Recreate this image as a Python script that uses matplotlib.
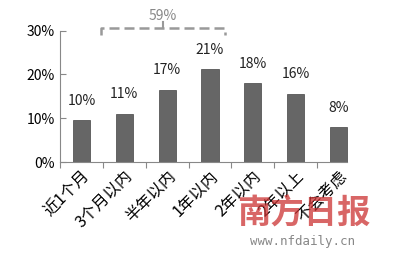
import matplotlib.pyplot as plt

plt.rcParams['font.family'] = ['Noto Sans CJK SC', 'DejaVu Sans']

categories = ["近1个月", "3个月以内", "半年以内", "1年以内", "2年以内", "2年以上", "不会考虑"]
values = [9.5, 11, 16.5, 21.2, 18, 15.6, 8]
labels = ["10%", "11%", "17%", "21%", "18%", "16%", "8%"]
yticks = [0, 10, 20, 30]
bracket_label = "59%"

fig = plt.figure(figsize=(4, 2.56), dpi=100)
ax = fig.add_axes([0.15, 0.367, 0.75, 0.513])

x = range(len(categories))
ax.bar(x, values, width=0.4, color="#666666", edgecolor="#444444", linewidth=0.5)
for xi, v, lab in zip(x, values, labels):
    ax.annotate(lab, (xi, v), xytext=(0, 9), textcoords="offset points",
                ha="center", va="bottom", fontsize=10, color="#222222")

ax.set_xlim(-0.5, 6.5)
ax.set_ylim(0, 30)
ax.set_yticks(yticks)
ax.set_yticklabels([f"{t}%" for t in yticks], fontsize=10)
ax.set_xticks([i + 0.5 for i in range(-1, 6)])
ax.set_xticklabels([])
ax.set_xticks(list(x), minor=True)
ax.set_xticklabels(categories, minor=True, rotation=45, ha="right",
                   rotation_mode="anchor", fontsize=11.5)
ax.tick_params(axis="x", which="minor", length=0, pad=4)
ax.tick_params(axis="x", which="major", length=4, direction="out", color="#888888")
ax.tick_params(axis="y", length=4, direction="in", color="#888888")
for side in ("top", "right"):
    ax.spines[side].set_visible(False)
for side in ("left", "bottom"):
    ax.spines[side].set_color("#888888")
ax.spines["bottom"].set_bounds(-0.5, 6.2)

# dashed bracket above the first four groups
bx0, bx1, by = 0.45, 3.35, 30.7
ax.plot([bx0, bx0, bx1, bx1], [29.0, by, by, 29.0], ls=(0, (4, 2)),
        color="#999999", lw=1.8, clip_on=False)
ax.plot([1.9, 1.9], [by, 32.0], color="#999999", lw=1.5, clip_on=False)
ax.text(1.9, 31.8, bracket_label, ha="center", va="bottom", fontsize=10,
        color="#888888", clip_on=False)

# newspaper watermark
fig.text(0.76, 0.165, "南方日报", ha="center", va="center", fontsize=24,
         color="#cc3333", alpha=0.75, fontweight="bold")
fig.text(0.755, 0.055, "www.nfdaily.cn", ha="center", va="center", fontsize=9,
         color="#555555", alpha=0.7, family="DejaVu Sans Mono")

fig.savefig("out.png", dpi=100)
